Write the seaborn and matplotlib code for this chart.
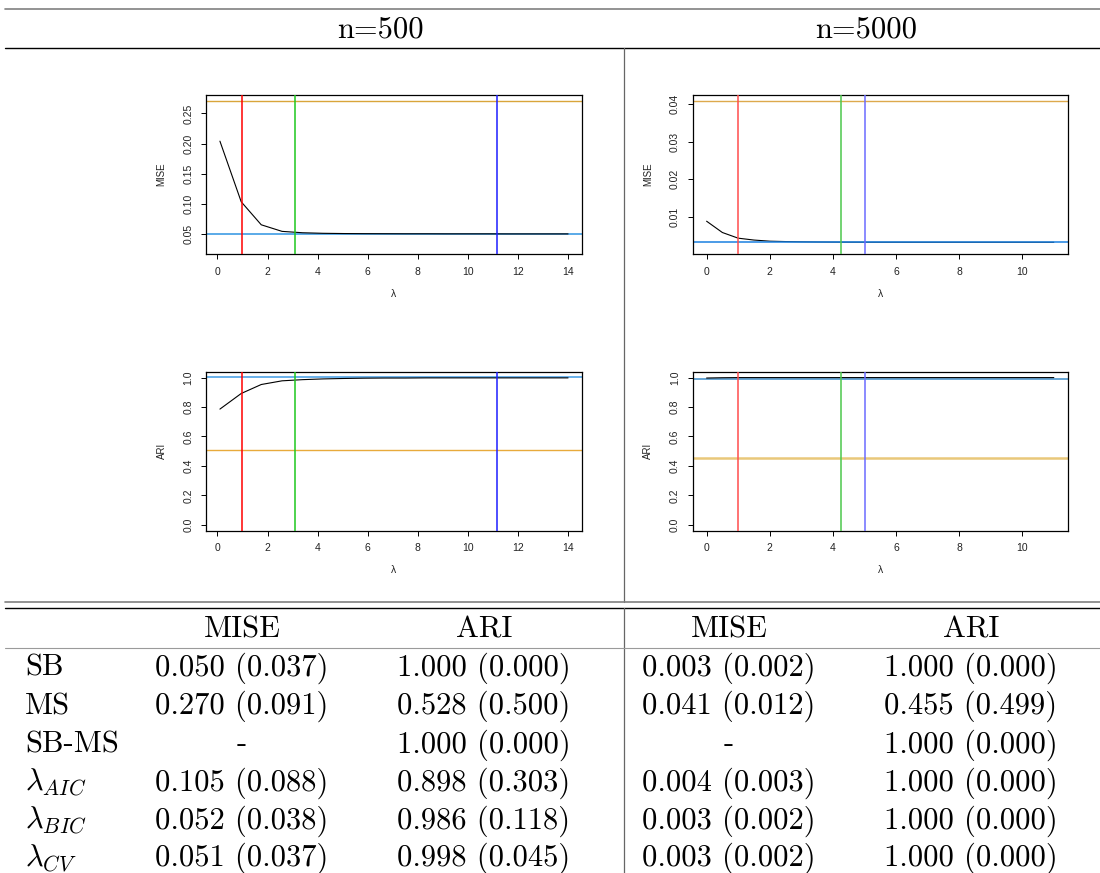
import matplotlib
matplotlib.use("Agg")
import matplotlib.pyplot as plt
import seaborn as sns
from matplotlib.lines import Line2D

sns.set_theme(style="white")
plt.rcParams["font.family"] = ["Liberation Sans", "DejaVu Sans"]
plt.rcParams["mathtext.fontset"] = "cm"

# ---------------- data ----------------
lam_500 = [0.1, 0.95, 1.75, 2.58, 3.4, 4.22, 5.04, 5.86, 6.68, 7.5, 8.32,
           9.14, 9.96, 10.78, 11.6, 12.42, 13.24, 14.0]
mise_500 = [0.204, 0.1035, 0.0654, 0.0545, 0.0522, 0.0513, 0.0509, 0.0507,
            0.0506, 0.0505, 0.0505, 0.0504, 0.0504, 0.0504, 0.0503, 0.0503,
            0.0503, 0.0503]
ari_500 = [0.786, 0.892, 0.953, 0.978, 0.986, 0.991, 0.994, 0.996, 0.997,
           0.997, 0.998, 0.998, 0.998, 0.998, 0.998, 0.998, 0.998, 0.998]

lam_5000 = [0.0, 0.5, 1.0, 1.5, 2.0, 2.5, 3.0, 3.5, 4.0, 4.5, 5.0, 5.5, 6.0,
            6.5, 7.0, 7.5, 8.0, 8.5, 9.0, 9.5, 10.0, 10.5, 11.0]
mise_5000 = [0.0089, 0.0059, 0.0044, 0.0039, 0.0036, 0.00350, 0.00343,
             0.00338, 0.00335, 0.00333, 0.00332, 0.00331, 0.00331, 0.0033,
             0.0033, 0.0033, 0.0033, 0.0033, 0.0033, 0.0033, 0.0033, 0.0033,
             0.0033]
ari_5000 = [0.997, 0.999, 1.0, 1.0, 1.0, 1.0, 1.0, 1.0, 1.0, 1.0, 1.0, 1.0,
            1.0, 1.0, 1.0, 1.0, 1.0, 1.0, 1.0, 1.0, 1.0, 1.0, 1.0]

# selected lambdas: AIC (red), BIC (green), CV (blue)
sel_500 = [1.0, 3.11, 11.17]
sel_5000 = [1.0, 4.25, 5.03]
# reference levels: SB (light blue), MS (orange)
ref_mise_500 = [0.050, 0.270]
ref_ari_500 = [1.003, 0.51]
ref_mise_5000 = [0.0033, 0.0407]
ref_ari_5000 = [0.990, 0.455]

xticks_500 = [0, 2, 4, 6, 8, 10, 12, 14]
xticks_5000 = [0, 2, 4, 6, 8, 10]
yticks_mise_500 = [0.05, 0.10, 0.15, 0.20, 0.25]
ylab_mise_500 = ["0.05", "0.10", "0.15", "0.20", "0.25"]
yticks_mise_5000 = [0.01, 0.02, 0.03, 0.04]
ylab_mise_5000 = ["0.01", "0.02", "0.03", "0.04"]
yticks_ari = [0.0, 0.2, 0.4, 0.6, 0.8, 1.0]
ylab_ari = ["0.0", "0.2", "0.4", "0.6", "0.8", "1.0"]

headers = ["n=500", "n=5000"]
col_headers = ["MISE", "ARI", "MISE", "ARI"]
row_labels = ["SB", "MS", "SB-MS", r"$\lambda_{AIC}$", r"$\lambda_{BIC}$",
              r"$\lambda_{CV}$"]
mise_500_tab = ["0.050 (0.037)", "0.270 (0.091)", "-", "0.105 (0.088)",
                "0.052 (0.038)", "0.051 (0.037)"]
ari_500_tab = ["1.000 (0.000)", "0.528 (0.500)", "1.000 (0.000)",
               "0.898 (0.303)", "0.986 (0.118)", "0.998 (0.045)"]
mise_5000_tab = ["0.003 (0.002)", "0.041 (0.012)", "-", "0.004 (0.003)",
                 "0.003 (0.002)", "0.003 (0.002)"]
ari_5000_tab = ["1.000 (0.000)", "0.455 (0.499)", "1.000 (0.000)",
                "1.000 (0.000)", "1.000 (0.000)", "1.000 (0.000)"]

# ---------------- figure ----------------
W, H = 1100, 873
fig = plt.figure(figsize=(11, 8.73), dpi=100)
fig.patch.set_facecolor("white")


def px_axes(x0, y0, x1, y1):
    return fig.add_axes([x0 / W, 1 - y1 / H, (x1 - x0) / W, (y1 - y0) / H])


def hline_px(y, x0, x1, color, lw):
    fig.add_artist(Line2D([x0 / W, x1 / W], [1 - y / H, 1 - y / H],
                          transform=fig.transFigure, color=color, lw=lw))


def vline_px(x, y0, y1, color, lw):
    fig.add_artist(Line2D([x / W, x / W], [1 - y0 / H, 1 - y1 / H],
                          transform=fig.transFigure, color=color, lw=lw))


def panel(ax, lam, vals, sel, refs, xticks, xlim, yticks, ylabs, ylim, ylab,
          vcols, hcols, hlw, curve_on_top):
    zc = 3 if curve_on_top else 1.5
    for val, c, lw in zip(refs, hcols, hlw):
        ax.axhline(val, color=c, lw=lw, zorder=2)
    sns.lineplot(x=lam, y=vals, ax=ax, color="black", linewidth=0.8,
                 estimator=None, zorder=zc)
    for v, c in zip(sel, vcols):
        ax.axvline(v, color=c, lw=1.1, zorder=4)
    ax.set_xlim(xlim)
    ax.set_ylim(ylim)
    ax.set_xticks(xticks)
    ax.set_xticklabels([str(t) for t in xticks])
    ax.set_yticks(yticks)
    ax.set_yticklabels(ylabs, rotation=90, va="center")
    ax.tick_params(direction="out", length=3.6, width=0.7, labelsize=7.5,
                   colors="black", bottom=True, left=True, top=False,
                   right=False, pad=5.5)
    ax.tick_params(axis="x", labelcolor="#222222")
    ax.tick_params(axis="y", labelcolor="#222222")
    for s in ax.spines.values():
        s.set_visible(True)
        s.set_color("black")
        s.set_linewidth(0.9)
    ax.set_facecolor("white")
    ax.grid(False)
    ax.set_ylabel(ylab, fontsize=7, va="center", color="#222222")
    ax.yaxis.set_label_coords(-0.118, 0.5)
    ax.set_xlabel("λ", fontsize=7.5, va="center", color="#222222")
    ax.xaxis.set_label_coords(0.5, -0.25)


vcols_l = ["#FF0000", "#1EC81E", "#1E1EFF"]
vcols_r = ["#FF4D4D", "#4CC84C", "#6B6BFF"]

ax1 = px_axes(206, 95.3, 582, 254)
panel(ax1, lam_500, mise_500, sel_500, ref_mise_500, xticks_500,
      (-0.456, 14.556), yticks_mise_500, ylab_mise_500, (0.017, 0.280),
      "MISE", vcols_l, ["#5AAAE8", "#D9A53A"], [1.4, 1.0], True)

ax2 = px_axes(692.7, 95.3, 1067.7, 254)
panel(ax2, lam_5000, mise_5000, sel_5000, ref_mise_5000, xticks_5000,
      (-0.44, 11.44), yticks_mise_5000, ylab_mise_5000, (0.0002, 0.0423),
      "MISE", vcols_r, ["#1A80E0", "#DDA94C"], [1.1, 1.0], False)

ax3 = px_axes(206, 371.7, 582, 530.7)
panel(ax3, lam_500, ari_500, sel_500, ref_ari_500, xticks_500,
      (-0.456, 14.556), yticks_ari, ylab_ari, (-0.04, 1.04),
      "ARI", vcols_l, ["#4FA3E6", "#E8AA3C"], [1.2, 1.0], True)

ax4 = px_axes(692.7, 371.7, 1067.7, 530.7)
panel(ax4, lam_5000, ari_5000, sel_5000, ref_ari_5000, xticks_5000,
      (-0.44, 11.44), yticks_ari, ylab_ari, (-0.04, 1.04),
      "ARI", vcols_r, ["#3C8CC8", "#E9C87A"], [1.1, 1.8], True)

# ---------------- table ----------------
hline_px(8.5, 5, 1100, "#808080", 1.2)
hline_px(48, 5, 1100, "black", 1.0)
vline_px(623.5, 48, 601.5, "#666666", 0.9)
hline_px(601.5, 5, 1100, "#808080", 1.2)
hline_px(608.3, 5, 1100, "black", 1.0)
vline_px(623.5, 608.3, 873, "#666666", 0.9)
hline_px(648, 5, 1100, "#9a9a9a", 0.8)

FS = 22
tfont = dict(fontfamily="cmr10", fontsize=FS, color="black")


def txt(x, y, s, ha="center", **kw):
    d = dict(tfont)
    d.update(kw)
    fig.text(x / W, 1 - y / H, s, ha=ha, va="baseline", **d)


txt(380, 37, headers[0])
txt(866, 37, headers[1])

col_x = [242, 484, 729, 971]
for cx, h in zip(col_x, col_headers):
    txt(cx, 637.5, h)

row_y = [676, 714.2, 752.4, 790.6, 828.8, 866]
columns = [mise_500_tab, ari_500_tab, mise_5000_tab, ari_5000_tab]
for i, ry in enumerate(row_y):
    lab = row_labels[i]
    if lab.startswith("$"):
        fig.text(25 / W, 1 - ry / H, lab, ha="left", va="baseline",
                 fontsize=FS, color="black")
    else:
        txt(25, ry, lab, ha="left")
    for cx, col in zip(col_x, columns):
        txt(cx, ry, col[i])

fig.savefig("out.png", dpi=100, facecolor="white")
